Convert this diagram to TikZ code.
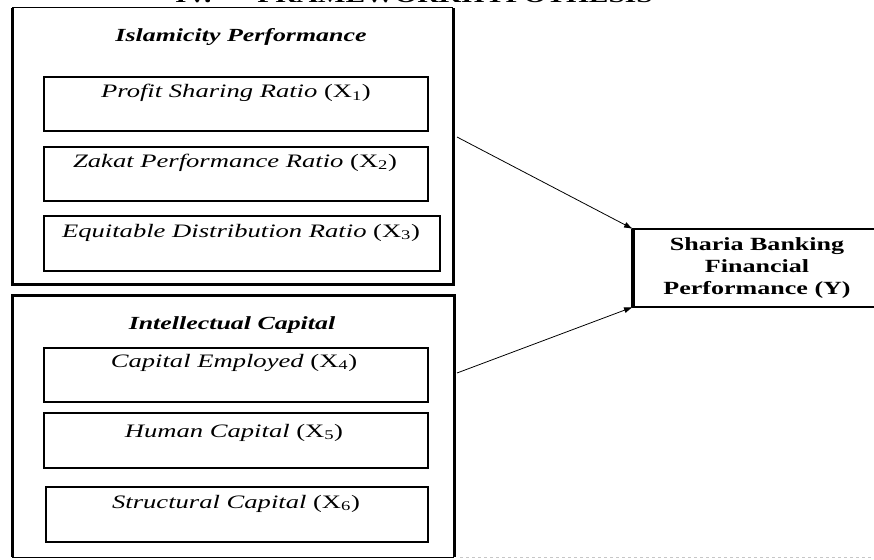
\documentclass[tikz,border=0pt]{standalone}
\usepackage{fontspec}
\setmainfont{Liberation Serif}[FakeStretch=1.4]
\usetikzlibrary{arrows.meta}
\begin{document}
\begin{tikzpicture}[x=1pt,y=-1pt,
  boxshape/.style={rectangle, inner sep=0pt, outer sep=0pt, anchor=north west},
  ibox/.style={boxshape, draw=black, line width=2.6pt},
  ybox/.style={boxshape, draw=black, line width=2.6pt, align=center,
    font=\bfseries\fontsize{18.6}{22}\selectfont},
  grouptitle/.style={anchor=base, font=\bfseries\itshape\fontsize{18.5}{20}\selectfont},
  itemtext/.style={anchor=base, font=\fontsize{19}{21}\selectfont},
  arr/.style={line width=0.8pt, -{Latex[length=9pt,width=6pt]}},
  thickside/.style={line width=3pt},
  thinside/.style={line width=1pt}
]
\useasboundingbox (0,0) rectangle (874,559);
\clip (0,0) rectangle (874,559);

% header (cut off at the top)
\node[anchor=base west, inner sep=0pt, font=\bfseries\fontsize{21}{21}\selectfont] (hdr) at (175,3) {IV.\hspace{46pt}FRAMEWORKHYPOTHESIS};

% group 1
\node[boxshape, minimum width=441pt, minimum height=276pt] (ob1) at (12,8) {};
\draw[thickside] (ob1.north west) -- (ob1.south west) -- (ob1.south east) -- (ob1.north east);
\draw[thinside] (ob1.north west) -- (ob1.north east);
\node[grouptitle] (g1) at (241,42) {Islamicity Performance};

\node[ibox, minimum width=384pt, minimum height=54pt] (b1) at (44,77) {};
\node[itemtext] (x1) at (236,98) {\textit{Profit Sharing Ratio} (X\textsubscript{1})};
\node[ibox, minimum width=384pt, minimum height=54pt] (b2) at (44,147) {};
\node[itemtext] (x2) at (235,167) {\textit{Zakat Performance Ratio} (X\textsubscript{2})};
\node[ibox, minimum width=396pt, minimum height=55pt] (b3) at (44,216) {};
\node[itemtext] (x3) at (241,237) {\textit{Equitable Distribution Ratio} (X\textsubscript{3})};

% group 2
\node[boxshape, minimum width=442pt, minimum height=262pt] (ob2) at (12,295) {};
\draw[thickside] (ob2.south west) -- (ob2.north west) -- (ob2.north east) -- (ob2.south east);
\draw[thinside] (ob2.south west) -- (ob2.south east);
\node[grouptitle] (g2) at (232,329) {Intellectual Capital};

\node[ibox, minimum width=384pt, minimum height=54pt] (b4) at (44,348) {};
\node[itemtext] (x4) at (234,367) {\textit{Capital Employed} (X\textsubscript{4})};
\node[ibox, minimum width=384pt, minimum height=55pt] (b5) at (44,413) {};
\node[itemtext] (x5) at (234,437) {\textit{Human Capital} (X\textsubscript{5})};
\node[ibox, minimum width=382pt, minimum height=55pt] (b6) at (46,487) {};
\node[itemtext] (x6) at (236,508) {\textit{Structural Capital} (X\textsubscript{6})};

% dependent variable
\node[ybox, minimum width=248pt, minimum height=78pt] (Y) at (633,229) {Sharia Banking\\Financial\\Performance (Y)};
\draw[line width=3.6pt] (Y.north west) -- (Y.south west);

% connectors
\coordinate (s1) at (457,137);
\coordinate (s2) at (457,373);
\draw[arr] (s1) -- (Y.north west);
\draw[arr] (s2) -- (Y.south west);

% faint dashed rule at the bottom
\coordinate (d1) at (460,557);
\coordinate (d2) at (874,557);
\draw[black!22, dashed, line width=0.8pt] (d1) -- (d2);
\end{tikzpicture}
\end{document}
